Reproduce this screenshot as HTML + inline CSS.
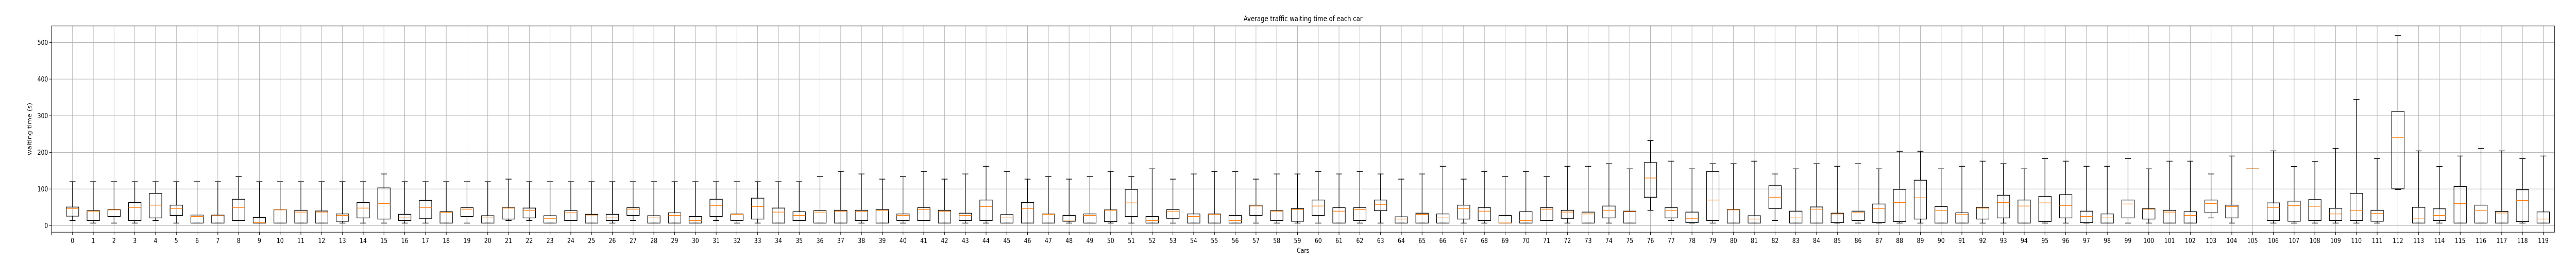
<!DOCTYPE html>
<html><head><meta charset="utf-8"><title>Average traffic waiting time of each car</title>
<style>html,body{margin:0;padding:0;background:#fff;width:100%;height:100%;overflow:hidden}svg{display:block;width:100vw;height:100vh}text{font-family:"DejaVu Sans","Liberation Sans",sans-serif;fill:#000}</style>
</head><body>
<svg id="chart" viewBox="0 0 6000 500" preserveAspectRatio="none" xmlns="http://www.w3.org/2000/svg">
<rect x="0" y="0" width="6000" height="500" fill="#fff"/>
<g id="grid"></g>
<g id="boxes"></g>
<rect x="120" y="50.3" width="5830" height="399.7" fill="none" stroke="#000" stroke-width="1.1"/>
<g id="axes"></g>
<text x="3035" y="41" font-size="14" text-anchor="middle">Average traffic waiting time of each car</text>
<text x="3035" y="490" font-size="13" text-anchor="middle">Cars</text>
<text x="0" y="0" font-size="13" text-anchor="middle" transform="translate(73,250) rotate(-90)">waiting time (s)</text>
</svg>
<script>
const cars = Array.from({length:120},(_,i)=>String(i));
const whiskerLow = [14,7,7,7,14,7,7,7,14,7, 7,7,7,7,7,7,7,7,7,7, 7,14,14,7,14,7,7,14,7,7, 7,14,7,7,7,14,7,7,7,7, 7,14,7,7,7,7,7,7,7,7, 7,7,7,7,7,7,7,7,7,7, 7,7,7,7,7,7,7,7,7,7, 7,14,7,7,7,7,42,14,7,7, 7,7,14,7,7,7,7,7,7,7, 7,7,7,7,7,7,7,7,7,7, 7,7,7,21,7,155,7,7,7,7, 7,7,98.6,7,7,7,7,7,7,7];
const q1 = [26,14,25,14,21,28,7,7,14,7, 7,7,7,12,21,18,14,20,7,25, 7,18,21,7,14,7,14,28,7,7, 7,25,14,18,7,14,7,7,14,7, 14,14,7,14,14,7,7,7,12,7, 11,25,7,20,7,7,7,28,14,12, 28,7,14,41,7,7,7,18,14,7, 7,14,20,7,21,7,77.5,21,8.5,14, 7,7,46.5,7,7,8.5,14,8.5,11,18, 7,7,18,21,7,11,21,8.5,7,21, 18,7,7,35,21,155,14,12,14,14, 14,12,100.5,7,14,7,7,7,11,7];
const median = [46.5,39.5,43,49,56,46.5,25,27,49,8.5, 43,37,37,28,48,60.5,21,49,36,45, 21,48,42,20,35,29,21,45,21,28, 14,55,31,52,37,28,37,39.5,38,42, 28,44,39.5,28,52,21,46.5,31,15,28, 42,62,14,39.5,25,30,14,53.5,39.5,44, 53.5,39.5,44,58,18,31,21,46.5,39.5,7.5, 14,45,37,32,42,38,130,42,20,70, 43,18,77.5,21,45,32,35,46.5,63,76, 42,30,48,63,53.5,62,55,25,21,59, 45,37,28,60.5,52,155,49,54.5,53,32, 42,33,240,20.5,27.7,60,42,34.7,68.5,18];
const q3 = [50.7,41,44,63,88,56,29,29,72,22.5, 43.5,42,40,32,63,103,31,69,38,49, 27,49,48,27,41,31,31,49,27,35, 25,72,32,75,48,38,41,42,42,44, 32,49,42,34,70,30,63,32,28,32, 43,99,25,44,32,32,28,56,41,46.5, 70,49,49,70,24,34,32,56,49,28, 38,49,42,37,53.5,39.5,172,49,37,148, 44,27,109,39.5,51,34,39.5,59,99,124, 52,35,50,83,70,80,84.5,39.5,32,70, 46.5,42,38,70,56,155,62,67,71,47.5, 88,42,312,50,46,106.6,56,39,98,37.5];
const whiskerHigh = [120,120,120,120,120,120,120,120,134,120, 120,120,120,120,120,141,120,120,120,120, 120,127,120,120,120,120,120,120,120,120, 120,120,120,120,120,120,134,148,141,127, 134,148,127,141,162,148,127,134,127,134, 148,134,155,127,141,148,148,127,141,141, 148,141,148,141,127,141,162,127,148,134, 148,134,162,162,169,155,232,176,155,169, 169,176,141,155,169,162,169,155,203,203, 155,162,176,169,155,183,176,162,162,183, 155,176,176,141,190,155,204,161.5,175.5,211, 344.6,183,519,204,161.5,190,211,204,183,190];
const yTicks = [0,100,200,300,400,500];

const NS='http://www.w3.org/2000/svg';
const L=120, R=5950, T=50.3, B=450;
const x0=168.9, dx=48.36;
function xPos(i){return x0+dx*i;}
function yPos(v){return 437.3 - v*0.71;}
function mk(parent,tag,attrs){const e=document.createElementNS(NS,tag);for(const k in attrs)e.setAttribute(k,attrs[k]);parent.appendChild(e);return e;}
const grid=document.getElementById('grid'), boxes=document.getElementById('boxes'), axes=document.getElementById('axes');

yTicks.forEach(v=>{
  const y=yPos(v);
  const g=mk(grid,'line',{x1:L,x2:R,y1:y,y2:y,stroke:'#b0b0b0','stroke-width':1.1});
  
  
  const t=mk(axes,'line',{x1:L-5,x2:L,y1:y,y2:y,stroke:'#000','stroke-width':1.1});
  
  
  const lb=mk(axes,'text',{x:L-8,y:y+4.5,'font-size':13,'text-anchor':'end'});
  lb.textContent=String(v);
  
  
});
const t0=mk(axes,'line',{x1:L,x2:L,y1:B,y2:B+5,stroke:'#000','stroke-width':1.1});



cars.forEach((c,i)=>{
  const x=xPos(i);
  const g=mk(grid,'line',{x1:x,x2:x,y1:T,y2:B,stroke:'#b0b0b0','stroke-width':1.1});
  
  
  const t=mk(axes,'line',{x1:x,x2:x,y1:B,y2:B+5,stroke:'#000','stroke-width':1.1});
  
  
  const lb=mk(axes,'text',{x:x,y:471,'font-size':13,'text-anchor':'middle'});
  lb.textContent=c;
  
  

  const grp=mk(boxes,'g',{});
  
  
  const hw=14.5, cw=7;
  const s={stroke:'#000','stroke-width':1.3,fill:'none'};
  mk(grp,'line',Object.assign({x1:x,x2:x,y1:yPos(q3[i]),y2:yPos(whiskerHigh[i])},s));
  mk(grp,'line',Object.assign({x1:x,x2:x,y1:yPos(q1[i]),y2:yPos(whiskerLow[i])},s));
  mk(grp,'line',Object.assign({x1:x-cw,x2:x+cw,y1:yPos(whiskerHigh[i]),y2:yPos(whiskerHigh[i])},s));
  mk(grp,'line',Object.assign({x1:x-cw,x2:x+cw,y1:yPos(whiskerLow[i]),y2:yPos(whiskerLow[i])},s));
  const top=yPos(q3[i]), bot=yPos(q1[i]);
  mk(grp,'rect',Object.assign({x:x-hw,y:top,width:hw*2,height:Math.max(0.01,bot-top)},s));
  mk(grp,'line',{x1:x-hw,x2:x+hw,y1:yPos(median[i]),y2:yPos(median[i]),stroke:'#ff7f0e','stroke-width':1.3});
});
</script>
</body></html>
